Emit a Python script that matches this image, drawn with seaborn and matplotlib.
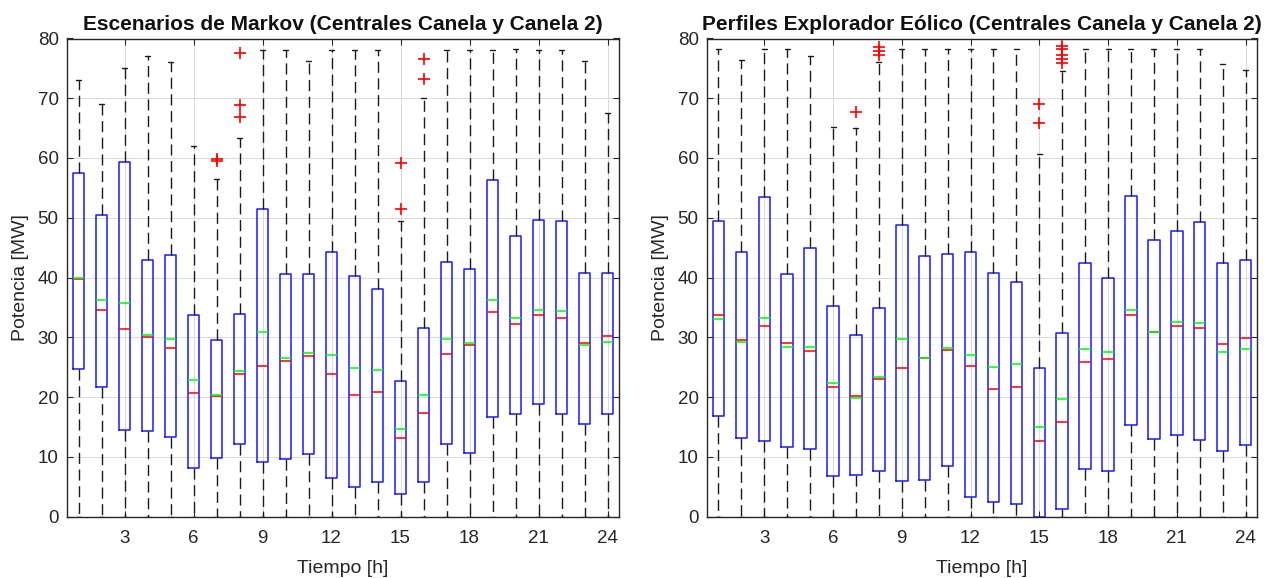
import numpy as np
import pandas as pd
import matplotlib
matplotlib.use("Agg")
import matplotlib.pyplot as plt
import seaborn as sns

# Hourly wind power statistics (MW) for Canela and Canela 2
hours = list(range(1, 25))
x_ticks = [3, 6, 9, 12, 15, 18, 21, 24]
y_ticks = [0, 10, 20, 30, 40, 50, 60, 70, 80]

# Markov scenarios
markov_q1 = [24.7, 21.6, 14.5, 14.3, 13.3, 8.1, 9.8, 12.2, 9.2, 9.6, 10.5, 6.4,
             5.0, 5.7, 3.8, 5.7, 12.1, 10.7, 16.7, 17.2, 18.8, 17.2, 15.5, 17.1]
markov_q3 = [57.5, 50.5, 59.3, 43.0, 43.7, 33.8, 29.5, 33.9, 51.5, 40.6, 40.6, 44.3,
             40.2, 38.1, 22.6, 31.6, 42.6, 41.5, 56.3, 47.0, 49.7, 49.5, 40.7, 40.7]
markov_median = [39.7, 34.6, 31.4, 30.0, 28.2, 20.6, 20.2, 23.8, 25.2, 26.1, 26.8, 23.9,
                 20.3, 20.9, 13.2, 17.3, 27.2, 28.7, 34.3, 32.2, 33.8, 33.3, 29.1, 30.2]
markov_mean = [39.9, 36.3, 35.7, 30.4, 29.7, 22.8, 20.4, 24.4, 30.8, 26.5, 27.4, 27.1,
               24.9, 24.6, 14.6, 20.3, 29.7, 29.1, 36.3, 33.3, 34.6, 34.4, 28.7, 29.2]
markov_whislo = [0.0] * 24
markov_whishi = [73.0, 69.0, 75.0, 77.0, 76.0, 62.0, 56.5, 63.3, 78.0, 78.0, 76.3, 78.0,
                 78.1, 78.0, 49.4, 70.1, 78.0, 78.0, 78.1, 78.2, 78.0, 78.0, 76.3, 67.5]
markov_out_hour = [7, 7, 8, 8, 8, 15, 15, 16, 16]
markov_out_value = [59.5, 59.8, 77.5, 68.8, 66.8, 59.1, 51.4, 76.5, 73.2]

# Wind explorer profiles
expl_q1 = [16.9, 13.2, 12.6, 11.6, 11.3, 6.8, 6.9, 7.6, 5.9, 6.1, 8.4, 3.2,
           2.4, 2.1, 0.0, 1.3, 7.9, 7.6, 15.3, 12.9, 13.6, 12.8, 10.9, 12.0]
expl_q3 = [49.4, 44.3, 53.5, 40.6, 44.9, 35.2, 30.4, 34.9, 48.8, 43.6, 44.0, 44.3,
           40.8, 39.2, 24.8, 30.7, 42.5, 40.0, 53.6, 46.3, 47.8, 49.3, 42.5, 42.9]
expl_median = [33.7, 29.6, 31.8, 29.0, 27.7, 21.7, 20.2, 23.0, 24.9, 26.5, 27.9, 25.2,
               21.3, 21.7, 12.7, 15.8, 25.9, 26.3, 33.7, 30.8, 31.8, 31.6, 28.8, 29.8]
expl_mean = [33.1, 29.2, 33.2, 28.3, 28.4, 22.4, 19.8, 23.3, 29.7, 26.6, 28.2, 27.1,
             25.1, 25.5, 15.0, 19.7, 28.1, 27.5, 34.6, 30.9, 32.5, 32.4, 27.6, 28.1]
expl_whislo = [0.0] * 24
expl_whishi = [78.2, 76.4, 78.2, 78.2, 77.0, 65.2, 65.0, 76.0, 78.2, 78.2, 78.2, 78.2,
               78.2, 78.2, 60.7, 74.5, 78.2, 78.2, 78.2, 78.2, 78.2, 78.2, 75.7, 74.8]
expl_out_hour = [7, 8, 8, 8, 15, 15, 16, 16, 16, 16, 16]
expl_out_value = [67.7, 78.5, 77.9, 77.2, 69.1, 65.8, 78.8, 78.3, 77.2, 76.5, 75.9]

titles = ["Escenarios de Markov (Centrales Canela y Canela 2)",
          "Perfiles Explorador Eólico (Centrales Canela y Canela 2)"]

sns.set_theme(style="whitegrid")
plt.rcParams["font.family"] = ["Liberation Sans", "DejaVu Sans"]

TXT = "#262626"
fig = plt.figure(figsize=(12.69, 5.78), dpi=100)
ax_l = fig.add_axes([67 / 1269, 1 - 516.5 / 578, 552 / 1269, 478 / 578])
ax_r = fig.add_axes([707 / 1269, 1 - 516.5 / 578, 550 / 1269, 478 / 578])

panels = [
    (ax_l, markov_q1, markov_q3, markov_median, markov_mean, markov_whislo, markov_whishi,
     markov_out_hour, markov_out_value, titles[0]),
    (ax_r, expl_q1, expl_q3, expl_median, expl_mean, expl_whislo, expl_whishi,
     expl_out_hour, expl_out_value, titles[1]),
]

for ax, q1, q3, med, mean, wlo, whi, oh, ov, title in panels:
    stats = [dict(q1=a, q3=b, med=m, mean=mu, whislo=lo, whishi=hi, fliers=[])
             for a, b, m, mu, lo, hi in zip(q1, q3, med, mean, wlo, whi)]
    ax.bxp(stats, positions=hours, widths=0.5, capwidths=0.22,
           showmeans=True, meanline=True, showfliers=False, manage_ticks=False,
           boxprops=dict(color="#1a1aff", linewidth=1.1),
           medianprops=dict(color="#ff0000", linewidth=1.1),
           meanprops=dict(color="#00ff00", linestyle="-", linewidth=1.1),
           whiskerprops=dict(color="#1a1a1a", linewidth=1.0, linestyle=(0, (8, 4))),
           capprops=dict(color="#1a1a1a", linewidth=1.0))
    out = pd.DataFrame({"hour": oh, "value": ov})
    sns.scatterplot(data=out, x="hour", y="value", ax=ax, marker="+", color="#ff0000",
                    s=85, linewidth=1.2, zorder=4, legend=False)

    ax.set_xlim(0.5, 24.5)
    ax.set_ylim(0, 80)
    ax.set_xticks(x_ticks)
    ax.set_yticks(y_ticks)
    ax.set_xticklabels([str(t) for t in x_ticks])
    ax.set_yticklabels([str(t) for t in y_ticks])
    ax.set_facecolor("white")
    ax.grid(True, color="#d9d9d9", linewidth=0.7)
    ax.set_axisbelow(True)
    for sp in ax.spines.values():
        sp.set_color(TXT)
        sp.set_linewidth(1.0)
        sp.set_visible(True)
    ax.tick_params(axis="both", direction="in", length=4, width=0.8, color=TXT,
                   labelsize=13.5, labelcolor=TXT, top=True, right=True,
                   bottom=True, left=True)
    ax.tick_params(axis="x", pad=10)
    ax.tick_params(axis="y", pad=6)
    ax.set_xlabel("Tiempo [h]", fontsize=14, color=TXT, labelpad=9)
    ax.set_ylabel("Potencia [MW]", fontsize=14, color=TXT, labelpad=6)
    ax.set_title(title, fontsize=15, fontweight="bold", color="#111111", pad=6)

fig.savefig("out.png", dpi=100, facecolor="white")
